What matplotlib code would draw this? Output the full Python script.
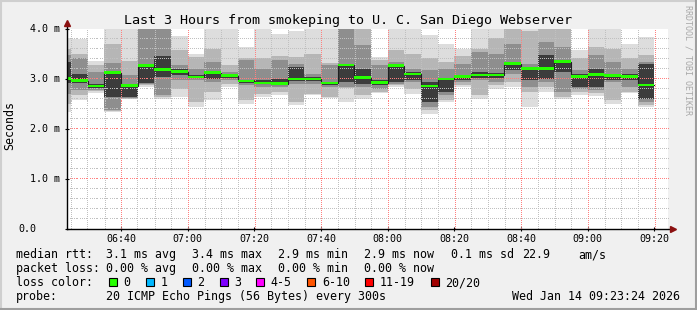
import matplotlib
matplotlib.use("Agg")
import matplotlib.pyplot as plt
import numpy as np
from matplotlib.patches import Rectangle
from matplotlib.lines import Line2D
from matplotlib.transforms import blended_transform_factory

# 5 minute steps, first step starts 06:20 (minutes since midnight)
first_step = 380
step_len = 5

# smoke bands per step, ms (outer -> inner), and median
smoke_min = [2.35, 2.58, 2.73, 2.35, 2.60, 2.85, 2.61, 2.65, 2.45, 2.58, 2.85, 2.51, 2.65, 2.68, 2.48, 2.68, 2.62, 2.55,
             2.61, 2.72, 2.85, 2.71, 2.31, 2.55, 2.85, 2.61, 2.81, 2.85, 2.45, 2.75, 2.61, 2.68, 2.67, 2.51, 2.72, 2.45]
smoke_lo3 = [2.50, 2.68, 2.76, 2.37, 2.61, 2.88, 2.64, 2.81, 2.55, 2.75, 2.91, 2.58, 2.71, 2.75, 2.55, 2.71, 2.65, 2.82,
             2.68, 2.75, 2.88, 2.80, 2.38, 2.58, 2.88, 2.68, 2.88, 2.95, 2.75, 2.85, 2.65, 2.75, 2.72, 2.58, 2.75, 2.49]
smoke_lo2 = [2.70, 2.78, 2.79, 2.38, 2.62, 2.90, 2.68, 2.98, 2.98, 2.95, 2.98, 2.88, 2.85, 2.85, 2.91, 2.91, 2.85, 2.85,
             2.85, 2.81, 2.91, 2.95, 2.45, 2.68, 2.95, 2.98, 2.95, 3.10, 2.85, 2.95, 2.75, 2.80, 2.78, 2.95, 2.85, 2.55]
smoke_lo1 = [2.92, 2.93, 2.83, 2.65, 2.65, 2.92, 3.05, 3.08, 3.02, 3.01, 3.03, 2.93, 2.90, 2.89, 2.97, 2.96, 2.89, 2.95,
             2.91, 2.88, 2.95, 2.98, 2.55, 2.75, 2.98, 3.02, 3.02, 3.18, 2.98, 3.01, 3.15, 2.85, 2.85, 2.98, 2.98, 2.60]
median = [3.01, 2.97, 2.86, 3.13, 2.87, 3.27, 3.19, 3.15, 3.04, 3.13, 3.07, 2.96, 2.92, 2.91, 3.00, 3.00, 2.92, 3.28,
          3.03, 2.93, 3.27, 3.10, 2.86, 3.00, 3.05, 3.08, 3.08, 3.31, 3.21, 3.21, 3.35, 3.05, 3.09, 3.07, 3.05, 2.88]
smoke_hi1 = [3.34, 3.11, 2.90, 3.15, 2.90, 3.29, 3.45, 3.21, 3.08, 3.16, 3.10, 2.98, 2.97, 3.01, 3.25, 3.05, 2.95, 3.31,
             3.20, 2.98, 3.31, 3.15, 2.95, 3.02, 3.08, 3.15, 3.12, 3.35, 3.25, 3.48, 3.38, 3.10, 3.21, 3.10, 3.10, 3.30]
smoke_hi2 = [3.48, 3.41, 3.15, 3.31, 3.08, 4.10, 4.10, 3.28, 3.21, 3.35, 3.15, 3.38, 3.21, 3.38, 3.30, 3.11, 3.28, 4.10,
             3.68, 3.28, 3.35, 3.21, 3.18, 3.21, 3.30, 3.55, 3.51, 3.70, 3.30, 3.75, 3.65, 3.18, 3.48, 3.35, 3.21, 3.35]
smoke_hi3 = [3.60, 3.51, 3.28, 3.70, 3.35, 4.15, 4.15, 3.58, 3.45, 3.61, 3.28, 3.42, 3.41, 3.45, 3.45, 3.51, 3.32, 4.15,
             4.10, 3.38, 3.58, 3.51, 3.41, 3.35, 3.45, 3.60, 3.81, 4.10, 3.95, 4.10, 4.10, 3.41, 3.65, 3.61, 3.41, 3.48]
smoke_max = [3.82, 3.81, 3.35, 4.10, 4.10, 4.20, 4.20, 3.85, 3.51, 4.10, 4.10, 3.65, 4.10, 3.91, 3.95, 4.10, 4.10, 4.20,
             4.15, 3.45, 4.10, 4.10, 3.88, 3.71, 3.61, 4.10, 4.10, 4.15, 4.10, 4.15, 4.15, 3.58, 4.10, 4.10, 3.71, 3.85]

xtick_min = [400, 420, 440, 460, 480, 500, 520, 540, 560]
xtick_labels = ["06:40", "07:00", "07:20", "07:40", "08:00", "08:20", "08:40", "09:00", "09:20"]
ytick_vals = [0.0, 1.0, 2.0, 3.0, 4.0]
ytick_labels = ["0.0", "1.0 m", "2.0 m", "3.0 m", "4.0 m"]

rtt_stats = ["3.1 ms avg", "3.4 ms max", "2.9 ms min", "2.9 ms now", "0.1 ms sd", "22.9", "am/s"]
loss_stats = ["0.00 % avg", "0.00 % max", "0.00 % min", "0.00 % now"]
loss_names = ["0", "1", "2", "3", "4-5", "6-10", "11-19", "20/20"]
loss_colors = ["#26ff00", "#00b8ff", "#0059ff", "#7e00ff", "#ff00ff", "#ff5500", "#ff0000", "#a00000"]

W, H = 697, 310
MONO = "DejaVu Sans Mono"
x_lo, x_hi = 383.8, 564.1
y_lo, y_hi = 0.0, 4.0
ax_w, ax_h = 601, 200


def fx(px):
    return px / W


def fy(py):
    return 1 - py / H


fig = plt.figure(figsize=(W / 100, H / 100), dpi=100, facecolor="#f0f0f0")
ax = fig.add_axes([fx(67), fy(229), ax_w / W, ax_h / H])
ax.set_facecolor("white")
ax.set_xlim(x_lo, x_hi)
ax.set_ylim(y_lo, y_hi)

t = [first_step + step_len * i for i in range(len(median))]
layers = [(smoke_min, smoke_max, "#dddddd"),
          (smoke_lo3, smoke_hi3, "#b6b6b6"),
          (smoke_lo2, smoke_hi2, "#8e8e8e"),
          (smoke_lo1, smoke_hi1, "#3c3c3c")]
for lo, hi, col in layers:
    ax.bar(t, np.array(hi) - np.array(lo), bottom=lo, width=step_len, align="edge",
           color=col, linewidth=0, antialiased=False, zorder=1)

# median: thin dark step line plus green (loss 0) segments
edges = t + [t[-1] + step_len]
ax.step(edges, median + [median[-1]], where="post", color="#202020", lw=0.8, zorder=4)
ax.bar(t, 0.05, bottom=np.array(median) - 0.025, width=step_len, align="edge",
       color=loss_colors[0], linewidth=0, antialiased=False, zorder=5)

# dotted grid: one pixel dots on every second pixel, snapped to pixel centres
ux = (x_hi - x_lo) / ax_w
uy = (y_hi - y_lo) / ax_h
ys_dots = y_lo + (np.arange(0, ax_h, 2) + 0.5) * uy
xs_dots = x_lo + (np.arange(0, ax_w, 2) + 0.5) * ux


def snap_x(v):
    return x_lo + (np.floor((v - x_lo) / ux) + 0.5) * ux


def snap_y(v):
    return y_lo + (np.floor((v - y_lo) / uy + 1e-6) + 0.5) * uy


def dotted_grid(xlines, ylines, col):
    gx, gy = [], []
    for xv in xlines:
        gx.append(np.full(ys_dots.size, snap_x(xv)))
        gy.append(ys_dots)
    for yv in ylines:
        gx.append(xs_dots)
        gy.append(np.full(xs_dots.size, snap_y(yv)))
    ax.plot(np.concatenate(gx), np.concatenate(gy), ",", color=col, zorder=2.5)


minor_x = [v for v in range(385, 564, 5) if v not in xtick_min]
minor_y = [round(v, 1) for v in np.arange(0.2, 4.0, 0.2) if round(v, 1) not in ytick_vals]
dotted_grid(minor_x, minor_y, "#c0c0c0")
dotted_grid(xtick_min, ytick_vals[1:], "#ff8080")

ax.set_xticks(xtick_min)
ax.set_yticks(ytick_vals)
ax.set_xticklabels(xtick_labels, family=MONO, fontsize=7.2)
ax.set_yticklabels([])
ax.tick_params(which="major", direction="inout", length=3, width=0.8, pad=2)
for s in ax.spines.values():
    s.set_visible(False)

# axes with arrows
ax.add_line(Line2D([0, 1.006], [0, 0], transform=ax.transAxes, color="black", lw=1.0, clip_on=False, zorder=6))
ax.add_line(Line2D([0, 0], [0, 1.015], transform=ax.transAxes, color="black", lw=1.0, clip_on=False, zorder=6))
ax.plot([1.009], [0], marker=">", ms=4, color="#8b1010", transform=ax.transAxes, clip_on=False, zorder=7)
ax.plot([0], [1.03], marker="^", ms=4, color="#8b1010", transform=ax.transAxes, clip_on=False, zorder=7)

# y tick labels
ytrans = blended_transform_factory(fig.transFigure, ax.transData)
for v, lab in zip(ytick_vals, ytick_labels):
    px = 18 if lab == "0.0" else 30
    ax.text(fx(px), v, lab, transform=ytrans, ha="left", va="center", family=MONO, fontsize=7.2)

fig.text(fx(348), fy(24), "Last 3 Hours from smokeping to U. C. San Diego Webserver",
         ha="center", va="baseline", family=MONO, fontsize=9.6)
fig.text(fx(10), fy(126), "Seconds", rotation=90, ha="center", va="center", family=MONO, fontsize=8.4)
fig.text(fx(688), fy(5), "RRDTOOL / TOBI OETIKER", rotation=-90, ha="center", va="top",
         family=MONO, fontsize=6.0, color="#a8a8a8")

# legend
fs = 8.4
fig.text(fx(15.5), fy(258), "median rtt:", family=MONO, fontsize=fs, va="baseline")
for s, px in zip(rtt_stats, [106.5, 192.5, 278.5, 364.5, 451, 522, 578.5]):
    fig.text(fx(px), fy(258), s, family=MONO, fontsize=fs, va="baseline")
fig.text(fx(15.5), fy(272), "packet loss:", family=MONO, fontsize=fs, va="baseline")
for s, px in zip(loss_stats, [106.5, 192.5, 278.5, 364.5]):
    fig.text(fx(px), fy(272), s, family=MONO, fontsize=fs, va="baseline")
fig.text(fx(15.5), fy(286), "loss color:", family=MONO, fontsize=fs, va="baseline")
for name, col, bx in zip(loss_names, loss_colors, [109, 146, 182.7, 219.7, 256, 307.3, 365, 430.7]):
    fig.add_artist(Rectangle((fx(bx), fy(286)), 8 / W, 8 / H, transform=fig.transFigure,
                             facecolor=col, edgecolor="black", lw=0.8))
    fig.text(fx(bx + 14.5), fy(286), name, family=MONO, fontsize=fs, va="baseline")
fig.text(fx(15.5), fy(300), "probe:", family=MONO, fontsize=fs, va="baseline")
fig.text(fx(106.5), fy(300), "20 ICMP Echo Pings (56 Bytes) every 300s", family=MONO, fontsize=fs, va="baseline")
fig.text(fx(680.5), fy(300), "Wed Jan 14 09:23:24 2026", family=MONO, fontsize=fs, va="baseline", ha="right")

# 3d frame
fig.add_artist(Line2D([0, 1], [fy(1), fy(1)], transform=fig.transFigure, color="#cfcfcf", lw=1.5))
fig.add_artist(Line2D([fx(1), fx(1)], [0, 1], transform=fig.transFigure, color="#cfcfcf", lw=1.5))
fig.add_artist(Line2D([0, 1], [fy(309), fy(309)], transform=fig.transFigure, color="#9e9e9e", lw=1.5))
fig.add_artist(Line2D([fx(696), fx(696)], [0, 1], transform=fig.transFigure, color="#9e9e9e", lw=1.5))

fig.savefig("out.png", dpi=100, facecolor=fig.get_facecolor())
